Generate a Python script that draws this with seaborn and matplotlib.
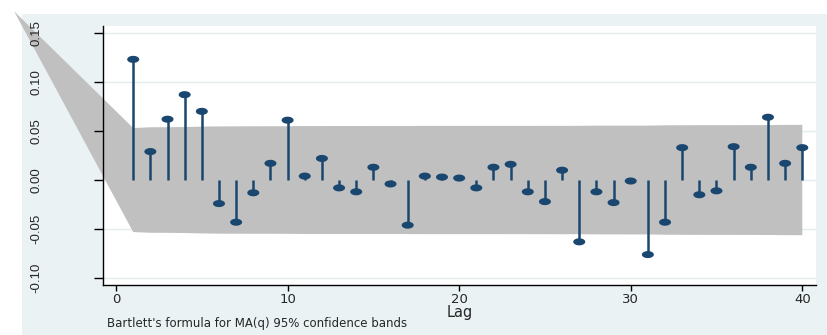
import numpy as np
import pandas as pd
import seaborn as sns
import matplotlib
matplotlib.use('Agg')
import matplotlib.pyplot as plt
from matplotlib.path import Path
from matplotlib.patches import Rectangle

# ACF values
lags = list(range(1, 41))
acf = [0.123, 0.029, 0.062, 0.087, 0.070, -0.024, -0.043, -0.013, 0.017, 0.061,
       0.004, 0.022, -0.008, -0.012, 0.013, -0.004, -0.046, 0.004, 0.003, 0.002,
       -0.008, 0.013, 0.016, -0.012, -0.022, 0.010, -0.063, -0.012, -0.023, -0.001,
       -0.076, -0.043, 0.033, -0.015, -0.011, 0.034, 0.013, 0.064, 0.017, 0.033]
n_obs = 1368                 # gives 1.96/sqrt(n) ~ 0.053 at lag 1
band_tip_lag = -5.94         # stray vertex of the band polygon (top-left corner)
band_tip_value = 0.172
x_ticks = [0, 10, 20, 30, 40]
y_ticks = [-0.10, -0.05, 0.00, 0.05, 0.10, 0.15]
caption = "Bartlett's formula for MA(q) 95% confidence bands"

navy = '#1a476f'
band_color = '#c0c0c0'
bg = '#eaf2f3'

# Bartlett's formula for the MA(q) band
r = np.array(acf)
cum = np.concatenate([[0.0], np.cumsum(r ** 2)[:-1]])
se = np.sqrt((1 + 2 * cum) / n_obs)
upper = 1.96 * se
lower = -upper

df = pd.DataFrame({'lag': lags, 'acf': acf})

sns.set_theme(style='white')
plt.rcParams['font.family'] = ['DejaVu Sans']

fig = plt.figure(figsize=(8.27, 3.35), dpi=100, facecolor='white')
fig.add_artist(Rectangle((22 / 827, 0), 805 / 827, 321 / 335, transform=fig.transFigure,
                         facecolor=bg, edgecolor='none', zorder=-1))
ax = fig.add_axes([103 / 827, 1 - 285 / 335, (816 - 103) / 827, (285 - 26) / 335])
ax.set_facecolor('white')
ax.set_axisbelow(False)

# grid lines
for yv in y_ticks:
    ax.axhline(yv, color='#e3ecee', lw=1.0, zorder=0.5)

# confidence band (with the odd extra vertex leaking outside the plot)
bx = [band_tip_lag] + lags + lags[::-1]
by = [band_tip_value] + list(upper) + list(lower[::-1])
poly = ax.fill(bx, by, color=band_color, lw=0, zorder=1)
for p in poly:
    p.set_clip_on(False)

# stems and markers
ax.vlines(df['lag'], 0, df['acf'], color=navy, lw=1.8, zorder=2)
t = np.linspace(0, 2 * np.pi, 40)
ellipse = Path(np.column_stack([1.7 * np.cos(t), np.sin(t)]))
sns.scatterplot(data=df, x='lag', y='acf', marker=ellipse, s=75, color=navy,
                edgecolor='none', zorder=3, ax=ax, legend=False)

ax.set_xlim(-0.76, 40.8)
ax.set_ylim(-0.107, 0.157)

for s in ['top', 'right']:
    ax.spines[s].set_visible(False)
for s in ['left', 'bottom']:
    ax.spines[s].set_color('black')
    ax.spines[s].set_linewidth(1.0)

ax.set_xticks(x_ticks)
ax.set_xticklabels([str(v) for v in x_ticks], fontsize=9.5)
ax.set_yticks(y_ticks)
ax.set_yticklabels([f'{v:.2f}' for v in y_ticks], rotation=90, va='center',
                   fontsize=9.5, family=['Liberation Sans', 'DejaVu Sans'])
ax.tick_params(axis='y', direction='out', length=6.5, width=1, color='black',
               pad=37, left=True)
ax.tick_params(axis='x', direction='out', length=4.3, width=1, color='black',
               pad=1.5, bottom=True)

ax.set_xlabel('Lag', fontsize=10.5, labelpad=-1)
ax.set_ylabel('')

fig.text(107 / 827, 1 - 324 / 335, caption, fontsize=8.5, va='center', ha='left')

fig.savefig('out.png', dpi=100)
plt.close(fig)
